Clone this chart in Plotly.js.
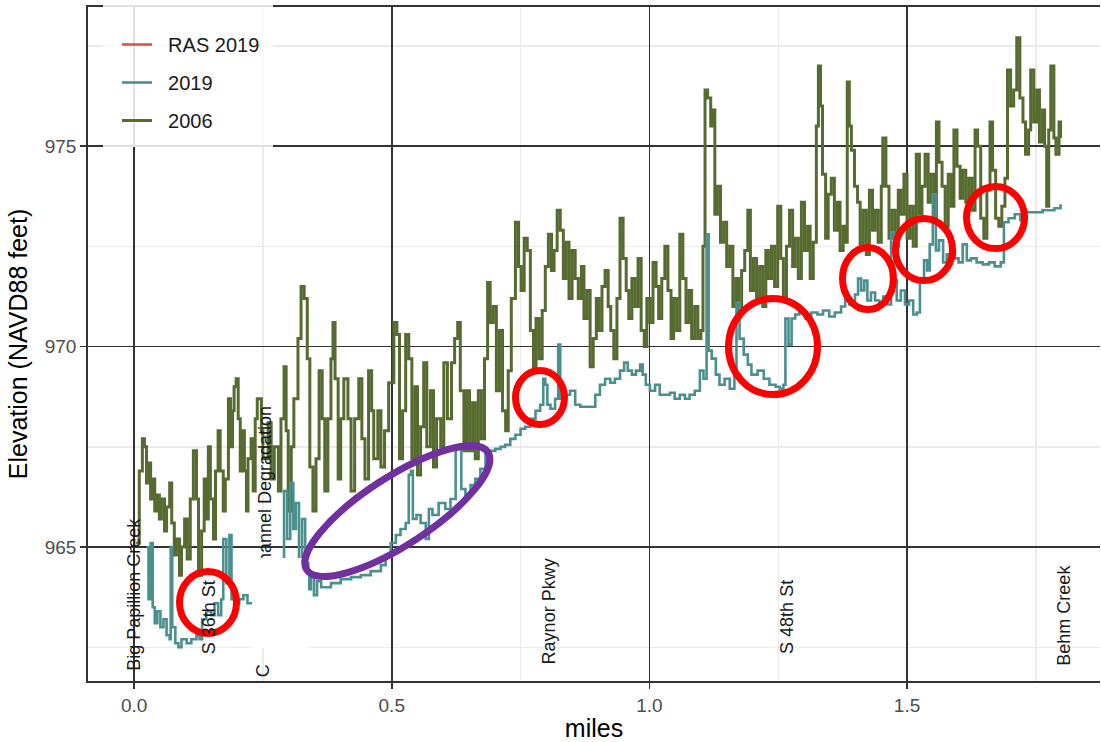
<!DOCTYPE html>
<html><head><meta charset="utf-8">
<script src="https://cdn.plot.ly/plotly-3.0.1.min.js"></script>
<style>html,body{margin:0;padding:0;background:#fff;}#chart{width:1101px;height:742px;}</style>
</head><body><div id="chart"></div>
<script>
// ---- 2006 profile (miles, elevation ft) ----
const miles2006 = [
0.004,0.010,0.016,0.020,0.024,0.028,0.032,0.036,0.040,0.045,0.049,0.053,0.059,0.063,0.069,0.073,0.078,0.082,0.088,0.092,0.098,0.103,0.109,0.115,0.121,0.125,0.131,0.136,0.140,0.144,0.148,0.154,0.158,0.163,0.167,0.173,0.177,0.183,0.187,0.191,0.194,0.198,0.202,0.206,0.210,0.214,0.218,0.221,0.227,0.231,0.235,0.239,0.243,0.247,0.250,
0.260,0.266,0.272,0.280,0.285,0.291,0.295,0.299,0.305,0.310,0.318,0.324,0.330,0.336,0.341,0.347,0.353,0.359,0.365,0.370,0.376,0.382,0.386,0.390,0.396,0.401,0.407,0.415,0.421,0.428,0.436,0.442,0.448,0.455,0.461,0.465,0.473,0.479,0.486,0.494,
0.504,0.510,0.515,0.521,0.527,0.533,0.539,0.545,0.550,0.556,0.562,0.568,0.575,0.581,0.587,0.595,0.601,0.608,0.616,0.622,0.628,0.633,0.640,0.645,0.651,0.657,0.662,0.668,0.674,0.680,0.686,0.691,0.697,0.703,0.709,0.715,0.721,0.726,0.732,0.740,0.746,0.751,0.757,0.763,
0.769,0.775,0.780,0.786,0.792,0.798,0.804,0.810,0.815,0.821,0.827,0.833,0.838,0.844,0.850,0.856,0.862,0.868,0.873,0.879,0.885,0.891,0.897,0.902,0.908,0.914,0.920,0.925,0.931,0.937,0.943,0.949,0.955,0.960,0.966,0.972,0.978,0.984,0.990,0.995,1.001,1.007,1.013,1.018,1.024,1.030,1.036,1.042,1.047,1.053,1.059,1.065,1.071,1.077,1.082,1.088,1.094,1.100,
1.104,1.108,1.113,1.119,1.123,1.127,1.132,1.138,1.144,1.150,1.156,1.162,1.168,1.173,1.179,1.185,1.191,1.196,1.202,1.208,1.214,1.220,1.226,1.231,1.237,1.243,1.249,1.255,1.260,1.266,1.272,1.278,1.283,1.289,1.295,1.301,1.307,1.312,1.318,1.324,1.328,1.332,1.336,1.342,1.347,1.353,1.359,1.365,1.370,1.376,1.380,1.384,1.388,1.392,1.398,1.404,1.409,1.415,1.421,1.427,1.433,1.438,1.444,1.450,1.453,1.459,1.465,1.471,1.477,1.483,1.488,1.494,1.500,1.506,1.512,1.518,1.524,1.529,1.535,1.541,1.547,1.553,1.557,1.562,1.568,1.574,1.580,1.586,1.591,1.597,1.603,1.608,1.614,1.620,1.626,1.632,1.637,1.643,1.649,1.655,1.661,1.666,1.672,1.678,1.684,1.690,1.695,1.701,1.707,1.713,1.719,1.725,1.730,1.736,1.740,1.746,1.752,1.757,1.763,1.767,1.771,1.775,1.779,1.785,1.789,1.795,1.798];
const elev2006 = [
965.1,966.9,967.7,967.5,966.6,967.1,966.2,966.7,965.9,966.3,965.7,966.2,965.4,966.0,966.6,965.6,964.8,965.2,964.3,965.0,965.7,964.7,966.2,967.4,966.2,964.3,965.4,966.7,965.7,967.5,966.2,965.2,966.9,967.9,966.9,965.9,966.7,968.7,967.5,968.4,969.0,969.2,968.2,966.9,967.9,966.9,965.9,967.2,967.7,966.4,968.2,968.7,968.7,967.9,967.2,
968.1,966.7,967.5,966.4,968.2,969.5,967.9,965.9,967.5,968.7,970.2,971.5,971.2,969.7,967.0,965.9,967.2,969.4,968.2,966.4,968.2,969.7,970.6,969.2,966.7,968.2,969.2,968.2,966.4,968.2,969.2,967.7,966.7,969.4,968.4,967.2,968.4,967.0,967.9,969.1,
970.6,970.3,967.2,968.4,970.3,969.7,967.2,969.0,966.8,968.0,969.6,967.5,968.9,967.0,968.2,967.5,969.6,968.2,969.6,970.2,970.6,968.9,967.4,968.9,967.4,968.6,967.2,968.9,967.7,969.7,971.6,970.6,971.0,968.9,970.4,968.4,967.9,969.4,971.2,973.1,972.0,971.4,972.7,972.4,
970.4,969.4,970.7,969.7,970.9,972.0,972.8,971.9,972.4,973.4,972.9,971.7,972.6,971.2,972.4,971.7,971.2,972.0,970.7,971.4,969.5,970.2,971.2,970.4,971.5,971.9,971.0,970.4,969.7,971.2,973.2,972.2,971.4,970.7,971.7,971.0,972.2,970.4,970.0,971.2,970.6,972.1,971.5,970.7,971.7,972.5,971.4,970.2,971.2,970.4,972.8,971.7,970.6,971.4,970.2,971.0,970.2,970.4,
972.5,976.4,976.2,975.5,975.9,973.3,974.0,972.6,973.1,972.0,972.5,971.0,971.7,970.9,971.9,972.4,973.4,971.4,972.2,971.2,972.0,971.0,972.4,971.7,972.5,971.5,973.5,972.2,971.2,972.5,973.4,972.0,972.7,971.7,973.6,972.4,973.0,971.7,972.6,975.5,977.0,976.0,974.3,972.7,973.8,974.2,972.9,973.6,972.4,973.0,972.6,976.6,975.5,974.9,974.0,973.6,972.5,973.4,972.3,973.9,972.9,973.4,972.6,974.0,975.2,974.0,972.7,973.4,972.5,973.9,973.3,974.3,972.7,973.5,972.5,974.8,973.3,974.0,974.8,973.6,974.3,973.2,975.6,974.6,974.0,973.0,974.3,973.5,975.4,974.5,973.7,974.4,973.6,974.2,973.4,975.4,975.0,973.2,972.7,973.9,975.6,974.4,973.2,973.0,973.5,974.2,976.9,976.0,976.4,977.7,976.2,975.6,974.8,975.4,976.9,975.6,976.4,975.1,975.9,975.0,973.5,975.4,977.0,975.2,974.8,975.6,975.2];

// ---- 2019 profile ----
const miles2019 = [
0.024,0.028,0.032,0.036,0.040,0.045,0.051,0.057,0.063,0.069,0.071,0.074,0.080,0.086,0.092,0.102,0.111,0.121,0.127,0.132,0.140,0.150,0.156,0.163,0.169,0.173,0.179,0.185,0.189,0.196,0.204,0.212,0.220,0.227,0.237,0.247,0.258,0.270,0.281,0.291,0.297,0.303,0.309,0.314,0.320,0.326,0.332,0.338,0.343,0.349,0.355,0.363,0.382,0.401,0.421,0.440,0.459,0.479,0.488,0.498,
0.508,0.517,0.527,0.533,0.537,0.541,0.548,0.556,0.566,0.572,0.579,0.591,0.604,0.614,0.624,0.630,0.635,0.643,0.653,0.662,0.672,0.682,0.691,0.701,0.711,0.720,0.730,0.740,0.750,0.759,0.769,0.779,0.788,0.794,0.798,0.802,0.808,0.817,0.823,0.827,
0.836,0.846,0.856,0.866,0.875,0.885,0.895,0.904,0.914,0.924,0.933,0.943,0.951,0.958,0.966,0.974,0.982,0.987,0.993,1.001,1.011,1.020,1.030,1.040,1.049,1.059,1.069,1.078,1.088,1.098,
1.105,1.111,1.115,1.121,1.129,1.136,1.146,1.156,1.165,1.169,1.175,1.183,1.191,1.198,1.210,1.222,1.233,1.245,1.253,1.260,1.264,1.270,1.276,1.283,1.291,1.303,1.314,1.326,1.337,1.349,
1.360,1.372,1.380,1.388,1.399,1.405,1.411,1.417,1.423,1.430,1.438,1.446,1.454,1.461,1.469,1.475,1.480,1.488,1.496,1.504,1.512,1.519,1.525,1.533,1.539,1.544,1.550,1.556,1.562,1.570,
1.577,1.585,1.593,1.600,1.608,1.616,1.624,1.635,1.647,1.659,1.670,1.682,1.688,1.697,1.709,1.720,1.732,1.748,1.763,1.775,1.786,1.798];
const elev2019 = [
965.0,963.7,965.1,963.5,963.1,963.4,963.0,963.2,962.8,962.7,965.0,963.0,962.6,962.5,962.7,962.6,962.7,962.8,962.7,963.2,963.4,963.3,963.6,963.3,963.7,965.2,964.1,965.3,963.7,963.6,963.7,963.8,963.6,963.6,963.75,964.0,964.1,964.3,964.45,966.4,965.2,966.6,965.45,966.1,964.7,965.7,964.6,963.95,964.25,963.8,964.15,964.0,964.1,964.2,964.25,964.3,964.4,964.55,964.8,965.1,
965.3,965.45,965.6,966.8,966.9,965.7,965.8,965.6,965.2,965.95,965.8,966.1,965.95,966.2,967.45,967.5,966.45,966.3,966.55,966.7,966.95,967.3,967.4,967.45,967.5,967.55,967.7,967.8,967.95,968.0,968.2,968.4,968.55,969.2,969.05,968.55,968.45,968.7,970.05,968.7,
968.8,968.9,968.55,968.5,968.5,968.5,968.8,969.05,969.2,969.1,969.2,969.4,969.6,969.4,969.3,969.4,969.55,969.3,969.05,968.9,969.05,968.8,968.8,968.85,968.7,968.8,968.7,968.8,968.9,969.4,
969.2,972.8,969.9,969.7,969.3,969.05,969.2,968.95,969.25,971.1,970.2,969.8,969.55,969.3,969.4,969.2,969.05,969.0,968.95,969.05,970.7,970.05,970.7,970.8,970.85,970.7,970.85,970.8,970.9,970.75,
970.85,971.0,971.2,971.05,971.3,971.7,971.4,971.65,971.15,971.35,971.15,971.05,971.25,971.05,972.85,971.65,971.15,971.4,971.05,971.15,970.8,970.85,971.65,972.15,971.9,972.55,973.8,972.4,972.65,972.1,
972.3,972.4,972.2,972.1,972.55,972.15,972.2,972.1,972.05,972.1,972.0,972.1,973.1,973.2,973.3,973.15,973.35,973.35,973.4,973.4,973.45,973.55];

// ---- RAS 2019 (not visible in the plotted range; legend only) ----
const milesRAS2019 = [null];
const elevRAS2019 = [null];

// ---- crossing labels ----
const siteNames = ['Big Papillion Creek','S 36th St','Raynor Pkwy','S 48th St','Behm Creek'];
const siteMiles = [0.0, 0.146, 0.806, 1.267, 1.805];
const channelLabel = 'Channel Degradation';
const channelMile = 0.25;

// ---- layout geometry ----
const W = 1101, H = 742;
const M = {l:88, r:1, t:7, b:61};
const xr = [-0.0895, 1.8745], yr = [961.66, 978.47];
const pw = W - M.l - M.r, ph = H - M.t - M.b;
const pxX = pw / (xr[1]-xr[0]), pxY = ph / (yr[1]-yr[0]);
const FONT = 'Liberation Sans, Arial, sans-serif';

const labelBottoms = [961.88, 962.31, 962.06, 962.31, 962.01];

const annotations = siteNames.map((t,i)=>({
  x: siteMiles[i], y: labelBottoms[i], xref:'x', yref:'y', text:t, showarrow:false,
  textangle:-90, xanchor:'center', yanchor:'bottom', borderpad:0,
  font:{family:FONT, size:18, color:'#1a1a1a'}
}));
annotations.push({x: channelMile, y: 961.74, xref:'x', yref:'y', text:'C', showarrow:false,
  textangle:-90, xanchor:'center', yanchor:'bottom', borderpad:0, font:{family:FONT,size:18,color:'#1a1a1a'}});

// overlay marks (highlight circles, px radii)
const circles = [
  {cx:0.1434, cy:963.616, rx:28.5, ry:31},
  {cx:0.7877, cy:968.728, rx:24.5, ry:27},
  {cx:1.2399, cy:970.000, rx:44.5, ry:48},
  {cx:1.4242, cy:971.696, rx:25.5, ry:31},
  {cx:1.5329, cy:972.419, rx:28.5, ry:31},
  {cx:1.6717, cy:973.217, rx:29,   ry:31}
];
function ellipsePath(cx, cy, a, b, deg){
  const t = deg*Math.PI/180, k = 0.5523;
  const u = [a*Math.cos(t)/pxX,  a*Math.sin(t)/pxY];
  const v = [b*Math.sin(t)/pxX, -b*Math.cos(t)/pxY];
  const P = (p,q)=> (cx + p*u[0] + q*v[0]).toFixed(5)+','+(cy + p*u[1] + q*v[1]).toFixed(5);
  return 'M'+P(1,0)+
    ' C'+P(1,k)+' '+P(k,1)+' '+P(0,1)+
    ' C'+P(-k,1)+' '+P(-1,k)+' '+P(-1,0)+
    ' C'+P(-1,-k)+' '+P(-k,-1)+' '+P(0,-1)+
    ' C'+P(k,-1)+' '+P(1,-k)+' '+P(1,0)+' Z';
}
const pxToPaperX = px => (px - M.l)/pw;
const pxToPaperY = py => (H - M.b - py)/ph;

const shapes = [
  // legend key background (semi-transparent white)
  {type:'rect', xref:'paper', yref:'paper', x0:pxToPaperX(103), x1:pxToPaperX(273), y0:pxToPaperY(147), y1:pxToPaperY(0),
   fillcolor:'rgba(255,255,255,0.85)', line:{width:0}, layer:'above'},
  // channel degradation label
  {type:'rect', xref:'x', yref:'y', x0:channelMile, x1:channelMile, y0:964.20, y1:968.60,
   line:{width:0}, fillcolor:'rgba(0,0,0,0)', layer:'above',
   label:{text:channelLabel, textangle:-90, textposition:'middle center', font:{family:FONT,size:18,color:'#1a1a1a'}}},
  // white patch
  {type:'rect', xref:'x', yref:'y', x0:0.2288, x1:0.3375, y0:962.48, y1:964.73,
   fillcolor:'#ffffff', line:{width:0}, layer:'above'}
];
circles.forEach(c=>shapes.push({type:'circle', xref:'x', yref:'y',
  x0:c.cx - c.rx/pxX, x1:c.cx + c.rx/pxX, y0:c.cy - c.ry/pxY, y1:c.cy + c.ry/pxY,
  line:{color:'#ff0000', width:7}, fillcolor:'rgba(0,0,0,0)', layer:'above'}));
shapes.push({type:'path', xref:'x', yref:'y', path:ellipsePath(0.5108, 965.898, 108, 34, 33),
  line:{color:'#7030a0', width:7}, fillcolor:'rgba(0,0,0,0)', layer:'above'});

const NB = '\u00a0\u00a0';
const traces = [
  {x:miles2006, y:elev2006, type:'scatter', mode:'lines', name:NB+'2006', legendgroup:'c', legendrank:3,
   line:{color:'#556b2f', width:3.0, shape:'hv'}},
  {x:miles2019, y:elev2019, type:'scatter', mode:'lines', name:NB+'2019', legendgroup:'b', legendrank:2,
   line:{color:'#4b8f8f', width:2.6, shape:'hv'}},
  {x:milesRAS2019, y:elevRAS2019, type:'scatter', mode:'lines', name:NB+'RAS 2019', legendgroup:'a', legendrank:1,
   line:{color:'#d9553f', width:2.6}}
];

const axisCommon = {
  showline:true, linecolor:'#333333', linewidth:1.8, ticks:'outside', ticklen:6, tickwidth:1.6, tickcolor:'#333333',
  showgrid:true, gridcolor:'#333333', gridwidth:1.7, zeroline:false, automargin:false,
  tickfont:{family:FONT, size:19, color:'#4d4d4d'}
};
const layout = {
  width:W, height:H, margin:M, paper_bgcolor:'#ffffff', plot_bgcolor:'#ffffff',
  font:{family:FONT},
  showlegend:true,
  legend:{x:pxToPaperX(117), xanchor:'left', y:pxToPaperY(25), yanchor:'top', bgcolor:'rgba(0,0,0,0)',
    borderwidth:0, traceorder:'grouped', tracegroupgap:9, font:{family:FONT, size:20, color:'#1a1a1a'}, itemwidth:30},
  xaxis:Object.assign({}, axisCommon, {range:xr, tick0:0, dtick:0.5, tickformat:'.1f', mirror:true,
    minor:{dtick:0.25, showgrid:true, gridcolor:'#ebebeb', gridwidth:1.4, ticks:''},
    title:{text:'miles', font:{family:FONT, size:25, color:'#000000'}, standoff:8}}),
  yaxis:Object.assign({}, axisCommon, {range:yr, tick0:965, dtick:5, mirror:false,
    minor:{dtick:2.5, tick0:962.5, showgrid:true, gridcolor:'#ebebeb', gridwidth:1.4, ticks:''},
    title:{text:'Elevation (NAVD88 feet)', font:{family:FONT, size:25, color:'#000000'}, standoff:10}}),
  shapes:shapes, annotations:annotations
};
Plotly.newPlot('chart', traces, layout, {staticPlot:true, displayModeBar:false});
</script></body></html>
